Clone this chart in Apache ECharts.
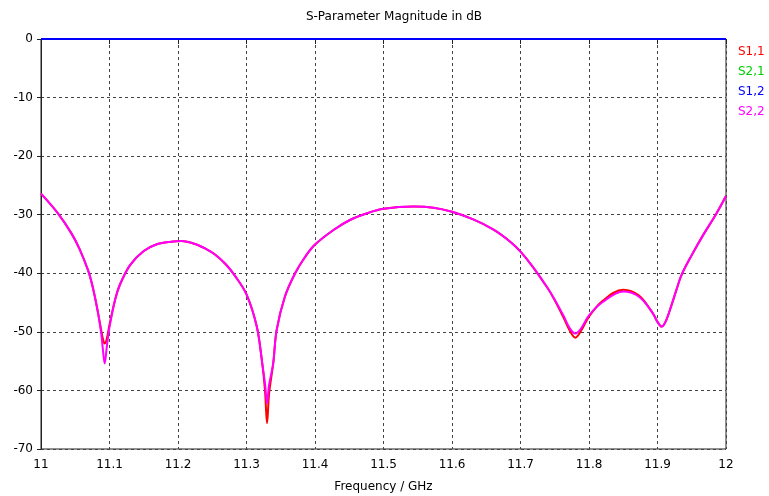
<!DOCTYPE html>
<html>
<head>
<meta charset="utf-8">
<script src="https://cdn.jsdelivr.net/npm/echarts@6/dist/echarts.min.js"></script>
<style>html,body{margin:0;padding:0;background:#fff;}#c{width:769px;height:496px;}</style>
</head>
<body>
<div id="c"></div>
<script>
var freq = [11.000, 11.025, 11.044, 11.056, 11.069, 11.076, 11.083, 11.088, 11.090, 11.093, 11.096, 11.100, 11.108, 11.115, 11.130, 11.150, 11.170, 11.190, 11.205, 11.225, 11.240, 11.254, 11.270, 11.283, 11.300, 11.315, 11.323, 11.327, 11.330, 11.333, 11.339, 11.344, 11.356, 11.371, 11.385, 11.400, 11.427, 11.451, 11.475, 11.500, 11.544, 11.573, 11.600, 11.631, 11.660, 11.685, 11.700, 11.718, 11.740, 11.750, 11.763, 11.772, 11.780, 11.788, 11.800, 11.820, 11.850, 11.873, 11.893, 11.900, 11.906, 11.912, 11.920, 11.928, 11.935, 11.950, 11.967, 11.985, 12.000];
var s11 = [-26.4, -29.8, -33.1, -35.8, -39.6, -42.6, -46.6, -49.8, -51.0, -52.0, -51.2, -48.8, -44.6, -42.0, -38.6, -36.2, -35.0, -34.6, -34.5, -35.0, -35.8, -36.8, -38.5, -40.4, -43.6, -49.1, -55.4, -60.0, -65.6, -60.5, -55.4, -49.7, -44.0, -40.0, -37.3, -35.1, -32.6, -30.9, -29.8, -29.0, -28.6, -28.8, -29.5, -30.8, -32.5, -34.6, -36.3, -38.9, -42.6, -44.6, -47.6, -49.8, -51.0, -49.9, -47.4, -44.7, -42.8, -43.8, -46.8, -48.3, -49.1, -48.2, -45.6, -42.7, -40.3, -36.9, -33.4, -30.0, -26.8];
var s22 = [-26.4, -29.8, -33.1, -35.8, -39.6, -42.6, -46.6, -50.4, -52.6, -55.4, -52.6, -49.2, -44.6, -42.0, -38.6, -36.2, -35.0, -34.6, -34.5, -35.0, -35.8, -36.8, -38.5, -40.4, -43.6, -49.1, -55.4, -58.8, -62.2, -59.0, -55.4, -49.7, -44.0, -40.0, -37.3, -35.1, -32.6, -30.9, -29.8, -29.0, -28.6, -28.8, -29.5, -30.8, -32.5, -34.6, -36.3, -38.9, -42.6, -44.5, -47.3, -49.4, -50.3, -49.5, -47.2, -44.9, -43.1, -44.0, -46.8, -48.3, -49.1, -48.2, -45.6, -42.7, -40.3, -36.9, -33.4, -30.0, -26.8];
var freqEnds = [11, 12];
var s21 = [0, 0];
var s12 = [0, 0];
var names = ['S1,1', 'S2,1', 'S1,2', 'S2,2'];
var colors = ['#ff0000', '#00cc00', '#0000ff', '#ff00ff'];

function pairs(xs, ys) { return xs.map(function (x, i) { return [x, ys[i]]; }); }

var chart = echarts.init(document.getElementById('c'), null, { renderer: 'canvas' });
var splitStyle = { show: true, lineStyle: { color: '#444', width: 1, type: [3, 3] } };
var font = 'DejaVu Sans';
chart.setOption({
  animation: false,
  backgroundColor: '#fff',
  title: {
    text: 'S-Parameter Magnitude in dB',
    left: 389, top: 6, textAlign: 'center',
    textStyle: { fontFamily: font, fontSize: 12, fontWeight: 'normal', color: '#000' }
  },
  legend: {
    orient: 'vertical', left: 728, top: 41, itemGap: 8,
    itemWidth: 0, itemHeight: 0, icon: 'none',
    data: names.map(function (n, i) { return { name: n, textStyle: { color: colors[i] } }; }),
    textStyle: { fontFamily: font, fontSize: 12 }
  },
  grid: { left: 41, right: 43, top: 39, bottom: 47, show: true, borderColor: '#222', borderWidth: 1, outerBoundsMode: 'none', containLabel: false },
  xAxis: {
    type: 'value', min: 11, max: 12, interval: 0.1,
    name: 'Frequency / GHz', nameLocation: 'middle', nameGap: 32,
    nameTextStyle: { fontFamily: font, fontSize: 12, color: '#000' },
    axisLine: { show: true, lineStyle: { color: '#222' } },
    axisTick: { show: true, length: 5, lineStyle: { color: '#222' } },
    axisLabel: { fontFamily: font, fontSize: 12, color: '#000', margin: 10,
      formatter: function (v) { return String(Math.round(v * 10) / 10); } },
    splitLine: splitStyle
  },
  yAxis: {
    type: 'value', min: -70, max: 0, interval: 10,
    axisLine: { show: true, lineStyle: { color: '#222' } },
    axisTick: { show: true, length: 4, lineStyle: { color: '#222' } },
    axisLabel: { fontFamily: font, fontSize: 12, color: '#000', margin: 8 },
    splitLine: splitStyle
  },
  series: [
    { name: names[0], type: 'line', data: pairs(freq, s11), showSymbol: false, smooth: 0.35, lineStyle: { color: colors[0], width: 2 }, itemStyle: { color: colors[0] } },
    { name: names[1], type: 'line', data: pairs(freqEnds, s21), showSymbol: false, lineStyle: { color: colors[1], width: 2 }, itemStyle: { color: colors[1] } },
    { name: names[2], type: 'line', data: pairs(freqEnds, s12), showSymbol: false, lineStyle: { color: colors[2], width: 2 }, itemStyle: { color: colors[2] } },
    { name: names[3], type: 'line', data: pairs(freq, s22), showSymbol: false, smooth: 0.35, lineStyle: { color: colors[3], width: 2 }, itemStyle: { color: colors[3] } }
  ]
});
</script>
</body>
</html>
